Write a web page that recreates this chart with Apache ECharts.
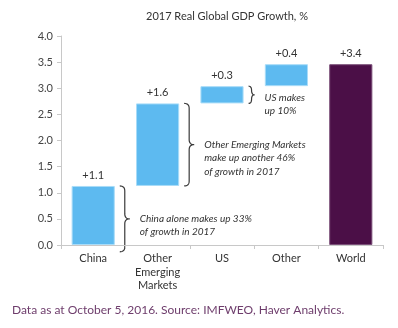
<!DOCTYPE html>
<html><head><meta charset="utf-8">
<script src="https://cdn.jsdelivr.net/npm/echarts@6/dist/echarts.min.js"></script>
<style>html,body{margin:0;padding:0;background:#fff}#c{width:398px;height:328px}</style>
</head><body><div id="c"></div>
<script>
var categories = ['China', 'Other\nEmerging\nMarkets', 'US', 'Other', 'World'];
var baseValues = [0, 1.13, 2.71, 3.04, 0];
var growthValues = [1.13, 1.58, 0.33, 0.42, 3.46];
var valueLabels = ['+1.1', '+1.6', '+0.3', '+0.4', '+3.4'];
var notes = [
  { cat: 0, from: 1.13, to: -0.13, lines: ['China alone makes up 33%', 'of growth in 2017'] },
  { cat: 1, from: 2.71, to: 1.13, lines: ['Other Emerging Markets', 'make up another 46%', 'of growth in 2017'] },
  { cat: 2, from: 3.04, to: 2.71, lines: ['US makes', 'up 10%'] }
];

var FONT = 'Lato, "Liberation Sans", sans-serif';
var blue = '#5DBAF0', purple = '#4B0F47';
var chart = echarts.init(document.getElementById('c'));
var option = {
  animation: false,
  title: {
    text: '2017 Real Global GDP Growth, %', left: 222, top: 6, textAlign: 'center',
    textStyle: { fontFamily: FONT, fontSize: 11, fontWeight: 'normal', color: '#333' }
  },
  grid: { left: 61, right: 15, top: 36, bottom: 83 },
  xAxis: {
    type: 'category', data: categories,
    axisLine: { lineStyle: { color: '#c8c8c8' } },
    axisTick: { show: true, length: 4, lineStyle: { color: '#c8c8c8' } },
    axisLabel: { fontFamily: FONT, fontSize: 11, color: '#333', lineHeight: 13.5, margin: 7 }
  },
  yAxis: {
    type: 'value', min: 0, max: 4, interval: 0.5,
    splitLine: { show: false },
    axisLine: { show: true, lineStyle: { color: '#c8c8c8' } },
    axisTick: { show: true, length: 4, lineStyle: { color: '#c8c8c8' } },
    axisLabel: { fontFamily: FONT, fontSize: 11, color: '#444', margin: 8,
      formatter: function (v) { return v.toFixed(1); } }
  },
  series: [
    { type: 'bar', stack: 's', data: baseValues, barWidth: '67%',
      itemStyle: { color: 'transparent' }, silent: true },
    { type: 'bar', stack: 's',
      data: growthValues.map(function (v, i) {
        return { value: v, itemStyle: { color: i === 4 ? purple : blue, borderColor: i === 4 ? '#7a4f78' : '#a9dcf8', borderWidth: 1 } };
      }),
      label: { show: true, position: 'top', distance: 5, fontFamily: FONT, fontSize: 11, color: '#333',
        formatter: function (p) { return valueLabels[p.dataIndex]; } }
    }
  ],
  graphic: [{
    type: 'text', left: 12, top: 304,
    style: { text: 'Data as at October 5, 2016. Source: IMFWEO, Haver Analytics.', font: '12px ' + FONT, fill: '#6e3d6c' }
  }]
};
chart.setOption(option);

function quad(pts, p0, p1, p2) {
  for (var t = 1; t <= 8; t++) {
    var s = t / 8, a = (1 - s) * (1 - s), b = 2 * (1 - s) * s, c = s * s;
    pts.push([a * p0[0] + b * p1[0] + c * p2[0], a * p0[1] + b * p1[1] + c * p2[1]]);
  }
}
function brace(x, y1, y2, w) {
  var xm = x + w / 2, xe = x + w, ym = (y1 + y2) / 2;
  var r = Math.min(5, Math.abs(y2 - y1) / 4);
  var pts = [[x, y1]];
  quad(pts, [x, y1], [xm, y1], [xm, y1 + r]);
  pts.push([xm, ym - r]);
  quad(pts, [xm, ym - r], [xm, ym], [xe, ym]);
  quad(pts, [xe, ym], [xm, ym], [xm, ym + r]);
  pts.push([xm, y2 - r]);
  quad(pts, [xm, y2 - r], [xm, y2], [x, y2]);
  return pts;
}
var extra = [];
var catW = chart.convertToPixel({ xAxisIndex: 0 }, 1) - chart.convertToPixel({ xAxisIndex: 0 }, 0);
notes.forEach(function (n) {
  var cx = chart.convertToPixel({ xAxisIndex: 0 }, n.cat);
  var x = cx + catW * 0.335 + 5;
  var y1 = chart.convertToPixel({ yAxisIndex: 0 }, n.from);
  var y2 = chart.convertToPixel({ yAxisIndex: 0 }, n.to);
  var small = Math.abs(y2 - y1) < 30;
  var w = small ? 6 : 10;
  extra.push({ type: 'polyline', shape: { points: brace(x, y1, y2, w) }, style: { fill: null, stroke: '#3a3a3a', lineWidth: 1.2 } });
  var ym = (y1 + y2) / 2;
  extra.push({ type: 'text', x: x + w + 10, y: ym - 7 + (small ? 3 : 0),
    style: { text: n.lines.join('\n'), font: 'italic 10px ' + FONT, fill: '#333', lineHeight: 13.5, verticalAlign: 'top' } });
});
chart.setOption({ graphic: option.graphic.concat(extra) });
</script></body></html>
